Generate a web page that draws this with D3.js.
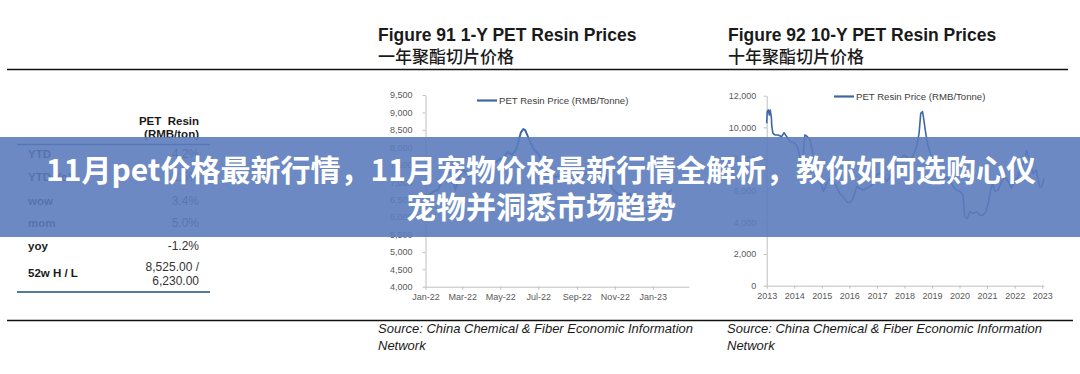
<!DOCTYPE html>
<html>
<head>
<meta charset="utf-8">
<script src="https://cdn.jsdelivr.net/npm/d3@7/dist/d3.min.js"></script>
<style>
  html, body { margin: 0; padding: 0; background: #ffffff; }
  svg { display: block; }
</style>
</head>
<body>
<svg id="chart" width="1080" height="374"></svg>
<script>
// ---------------- DATA ----------------
const tableLabels = ["YTD", "YTD YoY", "wow", "mom", "yoy", "52w H / L"];
const tableValues = [["4.2%"], ["2.5%"], ["3.4%"], ["5.0%"], ["-1.2%"], ["8,525.00 /", "6,230.00"]];
const tableHeader = ["PET  Resin", "(RMB/ton)"];

const titles1 = ["Figure 91 1-Y PET Resin Prices", "一年聚酯切片价格"];
const titles2 = ["Figure 92 10-Y PET Resin Prices", "十年聚酯切片价格"];
const legendLabel = "PET Resin Price (RMB/Tonne)";
const sourceLines = ["Source: China Chemical & Fiber Economic Information", "Network"];
const bannerLines = ["11月pet价格最新行情，11月宠物价格最新行情全解析，教你如何选购心仪", "宠物并洞悉市场趋势"];

// 1-Y series
const oneYDates = ["2022-01-03","2022-01-07","2022-01-14","2022-01-21","2022-01-28","2022-02-04","2022-02-11","2022-02-18","2022-02-25",
  "2022-03-04","2022-03-11","2022-03-18","2022-03-25","2022-04-01","2022-04-08","2022-04-15","2022-04-22","2022-04-29",
  "2022-05-06","2022-05-13","2022-05-20","2022-05-27","2022-06-03","2022-06-07","2022-06-10","2022-06-17","2022-06-24",
  "2022-07-01","2022-07-08","2022-07-15","2022-07-22","2022-07-29","2022-08-05","2022-08-12","2022-08-19","2022-08-26",
  "2022-09-02","2022-09-09","2022-09-16","2022-09-23","2022-09-30","2022-10-07","2022-10-14","2022-10-21","2022-10-28",
  "2022-11-04","2022-11-11","2022-11-18","2022-11-25","2022-12-02","2022-12-09","2022-12-16","2022-12-23","2022-12-30",
  "2023-01-06","2023-01-13","2023-01-20","2023-01-27","2023-02-01"];
const oneYValues = [6580,6650,6730,6780,7060,7300,7250,6780,7200,
  7350,7160,7280,7350,7400,7430,7470,7560,7640,
  7720,7870,7780,7960,8420,8525,8490,8200,7930,
  7820,7530,7350,7200,7150,7180,7280,7300,7240,
  7160,7180,7270,7350,7360,7350,7320,7060,6800,
  6680,6640,6620,6670,6500,6350,6260,6230,6340,
  6470,6580,6650,6730,6770];

// 10-Y series
const tenYDates = ["2013-01-01","2013-01-08","2013-01-22","2013-02-05","2013-02-16","2013-03-03","2013-03-10","2013-03-25","2013-04-20",
  "2013-06-03","2013-07-17","2013-08-19","2013-09-24","2013-11-07","2014-01-11","2014-02-10","2014-03-18","2014-04-23",
  "2014-05-22","2014-06-25","2014-07-28","2014-08-19","2014-10-01","2014-11-14","2015-01-01","2015-01-23","2015-03-08",
  "2015-04-20","2015-06-03","2015-07-17","2015-08-29","2015-10-12","2015-11-25","2016-01-08","2016-02-21","2016-04-08",
  "2016-05-22","2016-07-05","2016-08-18","2016-10-01","2016-11-14","2016-12-28","2017-02-10","2017-03-25","2017-05-08",
  "2017-06-21","2017-08-04","2017-09-20","2017-11-03","2017-12-17","2018-01-30","2018-03-15","2018-04-28","2018-06-11",
  "2018-07-14","2018-08-05","2018-08-29","2018-09-16","2018-10-04","2018-10-30","2018-12-01","2019-01-19","2019-03-03",
  "2019-04-16","2019-05-30","2019-07-13","2019-08-26","2019-10-09","2019-11-22","2020-01-15","2020-02-17","2020-03-10",
  "2020-04-12","2020-05-19","2020-07-02","2020-08-15","2020-09-28","2020-11-10","2020-12-17","2021-01-15","2021-02-17",
  "2021-03-15","2021-04-13","2021-05-27","2021-07-09","2021-08-26","2021-10-09","2021-11-22","2022-01-05","2022-02-17",
  "2022-04-01","2022-05-15","2022-06-07","2022-07-20","2022-09-02","2022-10-16","2022-11-10","2022-12-01","2022-12-23",
  "2023-01-10","2023-01-23"];
const tenYValues = [10250,10990,11100,10780,11100,10670,10040,9620,9520,
  9520,9410,9660,9410,9090,8990,8780,8150,7830,
  9520,9410,9200,8780,7730,6880,6250,5940,6460,
  6780,6670,6250,5830,5620,5310,5240,5520,6250,
  6150,6040,6150,6250,6460,6990,7090,6990,6570,
  6880,7410,7730,7940,8250,8150,7940,8250,8780,
  9620,10880,10990,10460,9830,9090,8460,7940,7410,
  6990,6670,6880,6670,6250,6040,5940,5730,4360,
  4250,4670,4570,4670,4460,4460,4670,5200,6040,
  6460,5940,6040,6570,6880,6570,6150,6670,6880,
  7520,7940,8525,7830,7090,7300,6650,6250,6230,
  6500,6770];

const oneYTicks = [4000,4500,5000,5500,6000,6500,7000,7500,8000,8500,9000,9500];
const tenYTicks = [0,2000,4000,6000,8000,10000,12000];

// ---------------- DRAW ----------------
const svg = d3.select("#chart");
const latin = "'Liberation Sans', Arial, Helvetica, sans-serif";
const cjk = "'Noto Sans CJK SC', 'Noto Sans', sans-serif";
const parse = d3.timeParse("%Y-%m-%d");
const lineColor = "#3f67a6";
const axisColor = "#bfbfbf";
const tickText = "#595959";

// horizontal rules
svg.append("line").attr("x1", 7).attr("x2", 1068).attr("y1", 69.5).attr("y2", 69.5)
  .attr("stroke", "#111").attr("stroke-width", 1.6);
svg.append("line").attr("x1", 7).attr("x2", 1073).attr("y1", 320.5).attr("y2", 320.5)
  .attr("stroke", "#111").attr("stroke-width", 1.6);

// ---- table ----
const tbl = svg.append("g");
tableHeader.forEach((t, i) => {
  tbl.append("text").attr("x", 199).attr("y", 125 + i * 12.5).attr("text-anchor", "end")
    .attr("font-family", latin).attr("font-weight", "bold").attr("font-size", 11.5)
    .attr("fill", "#1a1a1a").attr("xml:space", "preserve").text(t);
});
tbl.append("line").attr("x1", 17).attr("x2", 210).attr("y1", 144.5).attr("y2", 144.5)
  .attr("stroke", "#1f4e79").attr("stroke-width", 1.5);
tbl.append("line").attr("x1", 17).attr("x2", 210).attr("y1", 292).attr("y2", 292)
  .attr("stroke", "#1f4e79").attr("stroke-width", 1.5);
const rowBase = [158, 181, 205, 227, 250, 277];
tableLabels.forEach((lab, i) => {
  tbl.append("text").attr("x", 28).attr("y", rowBase[i])
    .attr("font-family", latin).attr("font-weight", "bold").attr("font-size", 11.5)
    .attr("fill", "#1a1a1a").text(lab);
  const vals = tableValues[i];
  vals.forEach((v, j) => {
    const y = vals.length === 1 ? rowBase[i] : rowBase[i] - 6 + j * 14;
    tbl.append("text").attr("x", 199).attr("y", y).attr("text-anchor", "end")
      .attr("font-family", latin).attr("font-size", 12)
      .attr("fill", "#333").text(v);
  });
});

// ---- titles ----
function titles(x, lines) {
  svg.append("text").attr("x", x).attr("y", 41).attr("font-family", latin).attr("font-weight", "bold")
    .attr("font-size", 17.5).attr("fill", "#1a1a1a").text(lines[0]);
  svg.append("text").attr("x", x).attr("y", 63).attr("font-family", cjk).attr("font-weight", 500)
    .attr("font-size", 17).attr("fill", "#1a1a1a").text(lines[1]);
}
titles(378, titles1);
titles(728, titles2);

// ---- generic chart ----
function drawChart(opts) {
  const g = svg.append("g");
  const x = d3.scaleTime().domain(opts.xDomain).range(opts.xRange);
  const y = d3.scaleLinear().domain(opts.yDomain).range(opts.yRange);

  const yAxis = d3.axisLeft(y).tickValues(opts.yTicks).tickSizeInner(3).tickSizeOuter(0)
    .tickFormat(d3.format(","));
  const ya = g.append("g").attr("transform", `translate(${opts.xRange[0]},0)`).call(yAxis);
  ya.select(".domain").attr("stroke", axisColor);
  ya.selectAll(".tick line").attr("stroke", axisColor);
  ya.selectAll(".tick text").attr("x", -opts.yLabelGap).attr("fill", tickText)
    .attr("font-family", latin).attr("font-size", 9);

  const xAxis = d3.axisBottom(x).tickValues(opts.xTicks).tickSizeInner(3).tickSizeOuter(0)
    .tickFormat(d3.timeFormat(opts.xFormat));
  const xa = g.append("g").attr("transform", `translate(0,${opts.yRange[0]})`).call(xAxis);
  xa.select(".domain").attr("stroke", axisColor);
  xa.selectAll(".tick line").attr("stroke", axisColor);
  xa.selectAll(".tick text").attr("y", 13).attr("dy", 0).attr("fill", tickText)
    .attr("font-family", latin).attr("font-size", 9);

  const data = opts.dates.map((d, i) => ({ d: parse(d), v: opts.values[i] }));
  const line = d3.line().x(d => x(d.d)).y(d => y(d.v));
  g.append("path").datum(data).attr("d", line).attr("fill", "none")
    .attr("stroke", lineColor).attr("stroke-width", opts.lw).attr("stroke-linejoin", "round");

  // legend
  g.append("line").attr("x1", opts.legX).attr("x2", opts.legX + 20)
    .attr("y1", opts.legY).attr("y2", opts.legY).attr("stroke", lineColor).attr("stroke-width", 2.2);
  g.append("text").attr("x", opts.legX + 22).attr("y", opts.legY + 3.3).attr("font-family", latin)
    .attr("font-size", 9.6).attr("fill", "#404040").text(legendLabel);
}

drawChart({
  dates: oneYDates, values: oneYValues,
  xDomain: [parse("2022-01-01"), parse("2023-02-28")], xRange: [425.5, 689],
  yDomain: [4000, 9500], yRange: [286.7, 95],
  yTicks: oneYTicks, yLabelGap: 13,
  xTicks: d3.timeMonth.every(2).range(parse("2022-01-01"), parse("2023-02-01")),
  xFormat: "%b-%y", lw: 2, legX: 477, legY: 100.5
});
drawChart({
  dates: tenYDates, values: tenYValues,
  xDomain: [parse("2013-01-01"), parse("2023-01-25")], xRange: [766.7, 1044],
  yDomain: [0, 12000], yRange: [285.7, 95.7],
  yTicks: tenYTicks, yLabelGap: 10.5,
  xTicks: d3.timeYear.range(parse("2013-01-01"), parse("2023-01-02")),
  xFormat: "%Y", lw: 1.6, legX: 834, legY: 96.5
});

// ---- source notes ----
[378, 727].forEach(x => {
  sourceLines.forEach((t, i) => {
    svg.append("text").attr("x", x).attr("y", 333 + i * 17).attr("font-family", latin)
      .attr("font-style", "italic").attr("font-size", 13).attr("fill", "#1a1a1a").text(t);
  });
});

// ---- banner overlay ----
svg.append("rect").attr("x", 0).attr("y", 137).attr("width", 1080).attr("height", 100)
  .attr("fill", "rgb(92,124,188)").attr("fill-opacity", 0.9);
bannerLines.forEach((t, i) => {
  svg.append("text").attr("x", 541).attr("y", 181 + i * 37).attr("text-anchor", "middle")
    .attr("font-family", cjk).attr("font-weight", "bold").attr("font-size", 30)
    .attr("fill", "#ffffff").text(t);
});
</script>
</body>
</html>
